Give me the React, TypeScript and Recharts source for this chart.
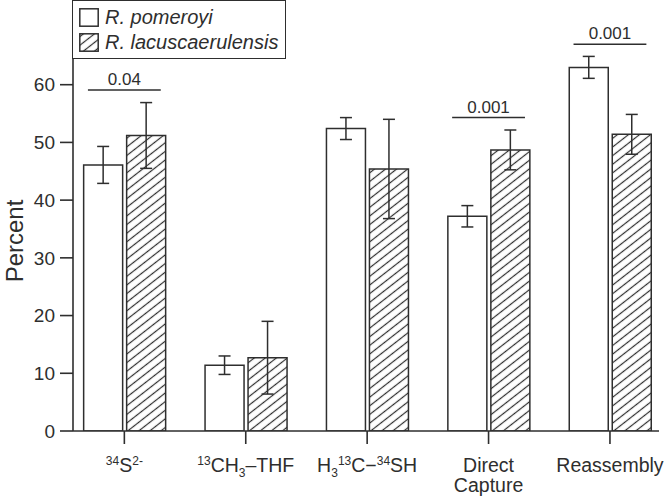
import React from "react";
import { Bar, BarChart, ErrorBar, ReferenceLine, XAxis, YAxis } from "recharts";

// category positions on the x axis (1..5)
const categories = [1, 2, 3, 4, 5];
const pomeroyi = [46.1, 11.4, 52.4, 37.2, 63.0];
const pomeroyiErr = [3.2, 1.6, 1.9, 1.85, 1.9];
const lacus = [51.2, 12.7, 45.4, 48.7, 51.4];
const lacusErr = [5.7, 6.3, 8.6, 3.45, 3.45];
const yTicks = [0, 10, 20, 30, 40, 50, 60];

// label segments: v = "sup" | "sub" | undefined
type Seg = { t: string; v?: "sup" | "sub" };
const tickLabels: Seg[][][] = [
  [[{ t: "34", v: "sup" }, { t: "S" }, { t: "2-", v: "sup" }]],
  [[{ t: "13", v: "sup" }, { t: "CH" }, { t: "3", v: "sub" }, { t: "–THF" }]],
  [[{ t: "H" }, { t: "3", v: "sub" }, { t: "13", v: "sup" }, { t: "C−" }, { t: "34", v: "sup" }, { t: "SH" }]],
  [[{ t: "Direct" }], [{ t: "Capture" }]],
  [[{ t: "Reassembly" }]],
];

// significance brackets
const sigCategory = [1, 4, 5];
const sigLevel = [59.1, 54.3, 67.0];
const sigText = ["0.04", "0.001", "0.001"];

const seriesNames = ["R. pomeroyi", "R. lacuscaerulensis"];

const data = categories.map((c, i) => ({
  cat: c,
  pom: pomeroyi[i],
  pomErr: pomeroyiErr[i],
  lac: lacus[i],
  lacErr: lacusErr[i],
}));

const INK = "#2e2e2e";
const xDomain = [0.577, 5.404];
const yDomain = [0, 74.5];

const CategoryTick = (props: any) => {
  const { x, y, payload } = props;
  const lines = tickLabels[Math.round(payload.value) - 1];
  if (!lines) return null;
  // flat tspans: nested dy would be overridden by the inner ones
  const spans: React.ReactNode[] = [];
  let shift = 0;
  lines.forEach((line, li) => {
    line.forEach((s, si) => {
      const target = s.v === "sup" ? -7 : s.v === "sub" ? 5 : 0;
      let dy = target - shift;
      if (si === 0) dy += li === 0 ? 28 : 20;
      shift = target;
      spans.push(
        <tspan key={`${li}-${si}`} x={si === 0 ? x : undefined} dy={dy} fontSize={s.v ? 12 : 19.5}>
          {s.t}
        </tspan>
      );
    });
  });
  return (
    <text x={x} y={y} textAnchor="middle" fill={INK} fontSize={19.5}>
      {spans}
    </text>
  );
};

const PercentLabel = (props: any) => {
  const vb = props.viewBox || { x: 0, y: 0, width: 73, height: 430 };
  const cx = 14;
  const cy = vb.y + vb.height / 2 + 25;
  return (
    <text x={cx} y={cy} transform={`rotate(-90, ${cx}, ${cy})`} textAnchor="middle" dominantBaseline="central" fill={INK} fontSize={24}>
      Percent
    </text>
  );
};

const LegendBox = () => (
  <div
    style={{
      position: "absolute",
      left: 72,
      top: 0,
      width: 214,
      height: 59,
      border: `1.6px solid ${INK}`,
      background: "#fff",
      boxSizing: "border-box",
      fontSize: 20,
      fontStyle: "italic",
      color: INK,
    }}
  >
    {seriesNames.map((name, i) => (
      <div key={name} style={{ position: "absolute", left: 6, top: i === 0 ? 7 : 32, display: "flex", alignItems: "center" }}>
        <svg width={20} height={19}>
          <rect x={0.8} y={0.8} width={18.4} height={17.4} fill={i === 0 ? "#fff" : "url(#hatch)"} stroke={INK} strokeWidth={1.5} />
        </svg>
        <span style={{ marginLeft: 6, lineHeight: "19px" }}>{name}</span>
      </div>
    ))}
  </div>
);

export default function App() {
  return (
    <div
      style={{
        position: "absolute",
        left: 0,
        top: 0,
        width: 666,
        height: 496,
        background: "#fff",
        fontFamily: "'Liberation Sans', Arial, sans-serif",
      }}
    >
      <svg width={0} height={0} style={{ position: "absolute" }}>
        <defs>
          <pattern id="hatch" patternUnits="userSpaceOnUse" width={6.8} height={6.8} patternTransform="rotate(-38)">
            <rect width={6.8} height={6.8} fill="#fff" />
            <line x1={0} y1={3.4} x2={6.8} y2={3.4} stroke={INK} strokeWidth={1.2} />
          </pattern>
        </defs>
      </svg>
      <BarChart
        width={666}
        height={496}
        data={data}
        margin={{ top: 1, right: 7, left: 0, bottom: 0 }}
        barSize={39}
        barGap={4}
      >
        <XAxis
          dataKey="cat"
          type="number"
          domain={xDomain}
          ticks={categories}
          allowDataOverflow
          height={65}
          tickSize={13}
          tickMargin={0}
          axisLine={{ stroke: INK, strokeWidth: 1.6 }}
          tickLine={{ stroke: INK, strokeWidth: 1.6 }}
          tick={<CategoryTick />}
          interval={0}
        />
        <XAxis
          xAxisId="top"
          orientation="top"
          type="number"
          domain={xDomain}
          allowDataOverflow
          height={0}
          tick={false}
          tickLine={false}
          axisLine={{ stroke: INK, strokeWidth: 1.6 }}
        />
        <YAxis
          type="number"
          domain={yDomain}
          ticks={yTicks}
          allowDataOverflow
          width={73}
          tickSize={13}
          tickMargin={5}
          axisLine={{ stroke: INK, strokeWidth: 1.6 }}
          tickLine={{ stroke: INK, strokeWidth: 1.6 }}
          tick={{ fill: INK, fontSize: 19 }}
          label={{ content: <PercentLabel /> }}
        />
        <YAxis
          yAxisId="right"
          orientation="right"
          type="number"
          domain={yDomain}
          width={0}
          tick={false}
          tickLine={false}
          axisLine={{ stroke: INK, strokeWidth: 1.6 }}
        />
        <Bar dataKey="pom" fill="#fff" stroke={INK} strokeWidth={1.5} isAnimationActive={false}>
          <ErrorBar dataKey="pomErr" width={6} stroke={INK} strokeWidth={1.5} />
        </Bar>
        <Bar dataKey="lac" fill="url(#hatch)" stroke={INK} strokeWidth={1.5} isAnimationActive={false}>
          <ErrorBar dataKey="lacErr" width={6} stroke={INK} strokeWidth={1.5} />
        </Bar>
        {sigCategory.map((c, i) => (
          <ReferenceLine
            key={i}
            segment={[
              { x: c - 0.3, y: sigLevel[i] },
              { x: c + 0.3, y: sigLevel[i] },
            ]}
            stroke={INK}
            strokeWidth={1.5}
            label={{ value: sigText[i], position: "top", offset: 5, fill: INK, fontSize: 17 }}
          />
        ))}
      </BarChart>
      <LegendBox />
    </div>
  );
}
